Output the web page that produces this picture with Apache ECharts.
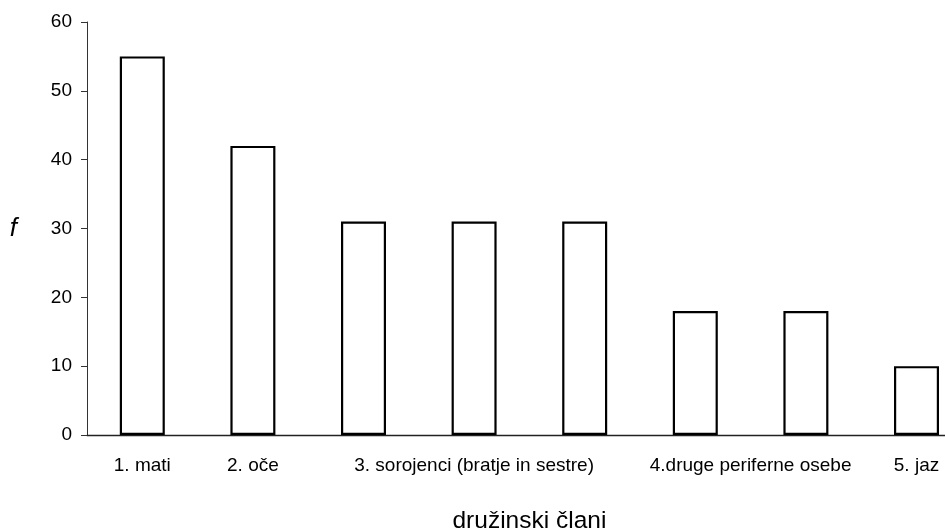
<!DOCTYPE html>
<html>
<head>
<meta charset="utf-8">
<script src="https://cdn.jsdelivr.net/npm/echarts@6/dist/echarts.min.js"></script>
<style>
html,body{margin:0;padding:0;background:#fff;}
#chart{width:945px;height:528px;}
</style>
</head>
<body>
<div id="chart"></div>
<script>
// Data
const categories = ['1. mati', '2. oče', '3. sorojenci (bratje in sestre)', '3. sorojenci (bratje in sestre)', '3. sorojenci (bratje in sestre)', '4.druge periferne osebe', '4.druge periferne osebe', '5. jaz'];
const values = [55, 42, 31, 31, 31, 18, 18, 10];
const yTicks = [0, 10, 20, 30, 40, 50, 60];
const xName = 'družinski člani';
const yName = 'f';

// Label placement: one label per group of equal consecutive categories, at the group's middle
const labelAt = categories.map(() => '');
let i = 0;
while (i < categories.length) {
  let j = i;
  while (j + 1 < categories.length && categories[j + 1] === categories[i]) j++;
  const n = j - i + 1;
  const mid = i + Math.floor((n - 1) / 2);
  labelAt[mid] = (n % 2 === 0) ? '{s|' + categories[i] + '}' : '{n|' + categories[i] + '}';
  i = j + 1;
}

const FONT = '"Liberation Sans", Arial, sans-serif';
const chart = echarts.init(document.getElementById('chart'), null, {renderer: 'canvas'});
const catWidth = 110.6;
chart.setOption({
  animation: false,
  backgroundColor: '#fff',
  grid: {left: 87, top: 22, height: 413, width: catWidth * categories.length, containLabel: false, outerBoundsMode: 'none'},
  xAxis: {
    type: 'category',
    data: categories.map((c, k) => String(k)),
    name: xName,
    nameLocation: 'middle',
    nameGap: 74,
    nameTextStyle: {fontFamily: FONT, fontSize: 24.5, color: '#000'},
    axisLine: {lineStyle: {color: '#222', width: 1.3}},
    axisTick: {show: false},
    axisLabel: {
      interval: 0,
      margin: 21,
      color: '#000',
      fontFamily: FONT,
      fontSize: 19,
      formatter: (v, idx) => labelAt[idx],
      rich: {
        n: {fontFamily: FONT, fontSize: 19, color: '#000'},
        s: {fontFamily: FONT, fontSize: 19, color: '#000', padding: [0, 0, 0, catWidth]}
      }
    },
    splitLine: {show: false}
  },
  yAxis: {
    type: 'value',
    min: yTicks[0],
    max: yTicks[yTicks.length - 1],
    interval: yTicks[1] - yTicks[0],
    name: yName,
    nameLocation: 'middle',
    nameRotate: 0,
    nameGap: 70,
    nameTextStyle: {fontFamily: FONT, fontSize: 26, fontStyle: 'italic', color: '#000'},
    axisLine: {show: true, lineStyle: {color: '#333', width: 1}},
    axisTick: {show: true, length: 6, lineStyle: {color: '#333', width: 1}},
    axisLabel: {margin: 15, color: '#000', fontFamily: FONT, fontSize: 19},
    splitLine: {show: false}
  },
  series: [{
    type: 'bar',
    data: values,
    barWidth: 45,
    itemStyle: {color: '#fff', borderColor: '#000', borderWidth: 2.2}
  }]
});
</script>
</body>
</html>
